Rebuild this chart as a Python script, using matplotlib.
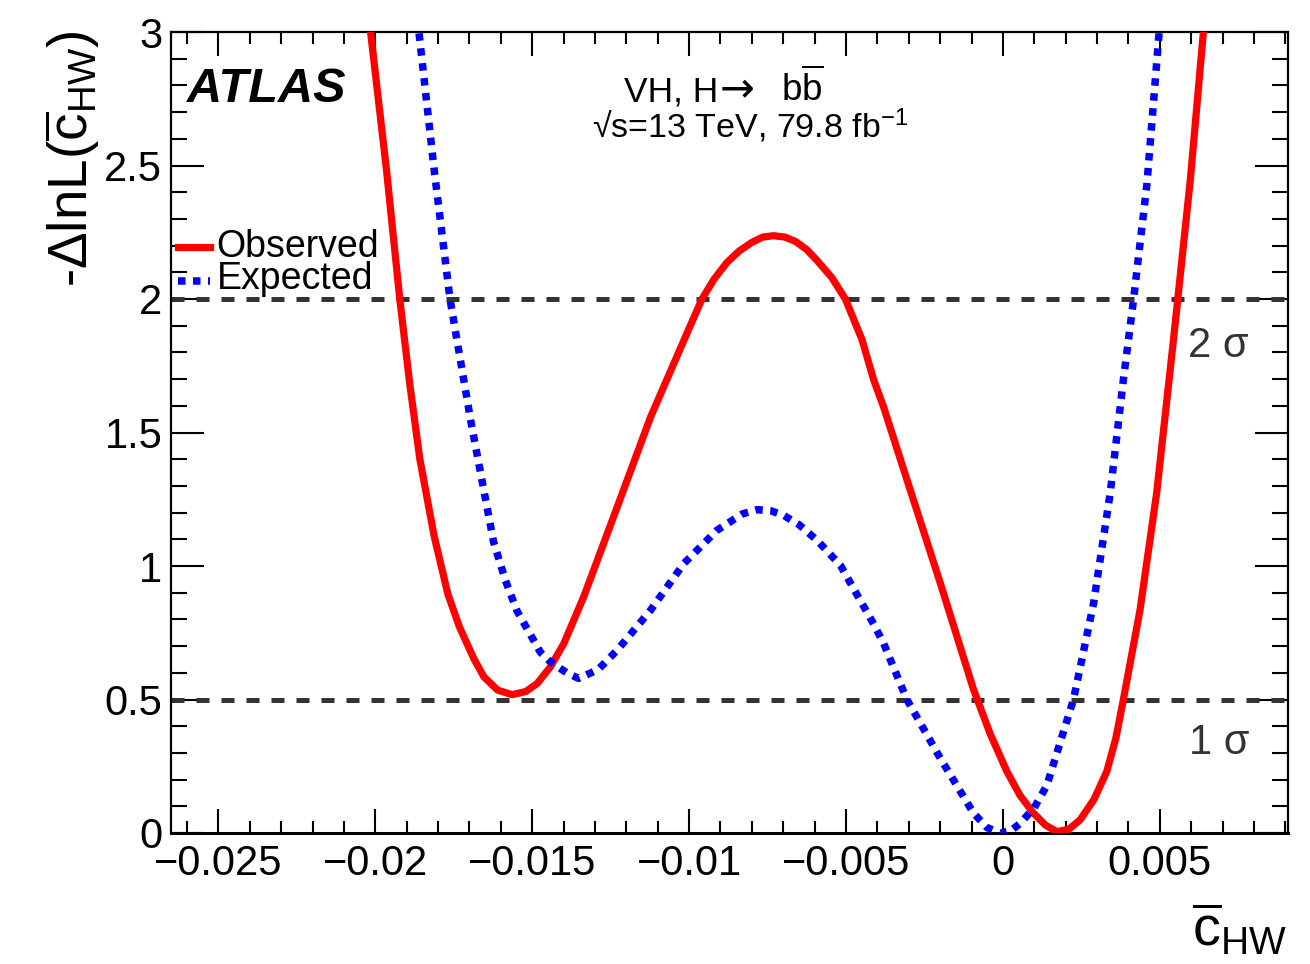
import matplotlib
matplotlib.use("Agg")
import matplotlib.pyplot as plt
from matplotlib.lines import Line2D
from matplotlib.ticker import MultipleLocator, FuncFormatter

# ---------------- data ----------------
obs_x = [-0.02030, -0.02015, -0.01964, -0.01922, -0.01890, -0.01858, -0.01813,
         -0.01769, -0.01732, -0.01686, -0.01654, -0.01610, -0.01564, -0.01520,
         -0.01484, -0.01442, -0.01399, -0.01336, -0.01229, -0.01123, -0.01017,
         -0.00959, -0.00920, -0.00879, -0.00840, -0.00800, -0.00765, -0.00731,
         -0.00695, -0.00660, -0.00625, -0.00592, -0.00545, -0.00502, -0.00449,
         -0.00412, -0.00380, -0.00306, -0.00200, -0.00094, -0.00040, 0.00013,
         0.00055, 0.00097, 0.00135, 0.00172, 0.00210, 0.00246, 0.00290,
         0.00331, 0.00360, 0.00384, 0.00437, 0.00490, 0.00543, 0.00597,
         0.00639, 0.00650]
obs_y = [3.06, 3.00, 2.48, 2.00, 1.68, 1.40, 1.115,
         0.896, 0.772, 0.653, 0.585, 0.535, 0.518, 0.530,
         0.560, 0.622, 0.710, 0.884, 1.221, 1.557, 1.844,
         2.000, 2.075, 2.137, 2.180, 2.212, 2.232, 2.237,
         2.232, 2.215, 2.185, 2.144, 2.080, 2.000, 1.848,
         1.698, 1.595, 1.324, 0.938, 0.539, 0.370, 0.230,
         0.140, 0.075, 0.030, 0.005, 0.014, 0.049, 0.125,
         0.230, 0.355, 0.500, 0.835, 1.273, 1.840, 2.443,
         3.000, 3.15]

exp_x = [-0.01870, -0.01861, -0.01812, -0.01762, -0.01696, -0.01623, -0.01585,
         -0.01548, -0.01474, -0.01442, -0.01390, -0.01352, -0.01290, -0.01229,
         -0.01123, -0.01017, -0.00911, -0.00830, -0.00783, -0.00740, -0.00699,
         -0.00650, -0.00592, -0.00518, -0.00412, -0.00380, -0.00306, -0.00200,
         -0.00094, -0.00050, -0.00009, 0.00025, 0.00055, 0.00100, 0.00140,
         0.00225, 0.00289, 0.00342, 0.00384, 0.00416, 0.00459, 0.00498, 0.00505]
exp_y = [3.05, 3.00, 2.48, 2.00, 1.545, 1.090, 0.945,
         0.831, 0.677, 0.641, 0.600, 0.579, 0.612, 0.685,
         0.834, 1.009, 1.134, 1.195, 1.211, 1.207, 1.190,
         1.155, 1.096, 1.003, 0.783, 0.710, 0.500, 0.281,
         0.075, 0.020, 0.000, 0.008, 0.036, 0.095, 0.178,
         0.500, 0.860, 1.273, 1.698, 1.994, 2.430, 3.000, 3.10]

sigma_levels = [0.5, 2.0]
sigma_labels = ["1 σ", "2 σ"]
series_labels = ["Observed", "Expected"]

# ---------------- style ----------------
plt.rcParams["font.family"] = ["Liberation Sans", "DejaVu Sans"]
plt.rcParams["mathtext.fontset"] = "custom"
plt.rcParams["mathtext.rm"] = "Liberation Sans"
plt.rcParams["mathtext.it"] = "Liberation Sans:italic"
plt.rcParams["mathtext.bf"] = "Liberation Sans:bold"
plt.rcParams["mathtext.fallback"] = "stixsans"

W, H = 1310, 964
fig = plt.figure(figsize=(W / 100, H / 100), dpi=100)
L, R, T, B = 170.7, 1287.5, 32.0, 833.0
ax = fig.add_axes([L / W, 1 - B / H, (R - L) / W, (B - T) / H])
renderer = fig.canvas.get_renderer()


def fx(px):
    return px / W


def fy(py):
    return 1 - py / H


ax.set_xlim(-0.02652, 0.00907)
ax.set_ylim(0, 3)

for lev in sigma_levels:
    ax.axhline(lev, color="#333333", lw=3.6, linestyle=(0, (2.6, 2.4)),
               dash_capstyle="butt", zorder=2)

ax.plot(obs_x, obs_y, color="#ff0000", lw=5.2, solid_joinstyle="round",
        zorder=3, clip_on=True)
ax.plot(exp_x, exp_y, color="#0000ff", lw=5.4, linestyle=(0, (1, 1)),
        dash_capstyle="butt", zorder=4, clip_on=True)

# ticks
ax.xaxis.set_major_locator(MultipleLocator(0.005))
ax.xaxis.set_minor_locator(MultipleLocator(0.001))
ax.yaxis.set_major_locator(MultipleLocator(0.5))
ax.yaxis.set_minor_locator(MultipleLocator(0.1))


def fmt(v, pos):
    v = round(v, 6)
    if abs(v) < 1e-9:
        return "0"
    s = "%g" % v
    return s.replace("-", "\u2212")


ax.xaxis.set_major_formatter(FuncFormatter(fmt))
ax.yaxis.set_major_formatter(FuncFormatter(fmt))
ax.tick_params(which="both", direction="in", top=True, right=True,
               width=1.5, colors="black", labelsize=30)
ax.tick_params(axis="x", which="major", length=17.5, pad=8)
ax.tick_params(axis="x", which="minor", length=8.6)
ax.tick_params(axis="y", which="major", length=23.8, pad=6)
ax.tick_params(axis="y", which="minor", length=11.5)
for sp in ax.spines.values():
    sp.set_linewidth(1.6)
ax.spines["bottom"].set_linewidth(2.2)

# axis titles
fig.text(fx(102), fy(30), r"-$\Delta$lnL($\overline{\mathrm{c}}_{\mathrm{HW}}$)",
         rotation=90, ha="right", va="top", fontsize=39.5)
fig.text(fx(1287), fy(946), r"$\overline{\mathrm{c}}_{\mathrm{HW}}$",
         ha="right", va="baseline", fontsize=40)

# ATLAS label and info
fig.text(fx(187), fy(102), "ATLAS", fontsize=35, fontweight="bold",
         fontstyle="italic", ha="left", va="baseline")
t1 = fig.text(fx(624), fy(101), "VH, H", fontsize=25.5, ha="left",
              va="baseline")
x_end = t1.get_window_extent(renderer=renderer).x1
fig.text((x_end + 1) / W, fy(101), "\u2192", fontsize=30, family="DejaVu Sans",
         ha="left", va="baseline")
fig.text(fx(781), fy(101), r"b$\overline{\mathrm{b}}$", fontsize=26.5,
         ha="left", va="baseline")
fig.text(fx(750), fy(138), "\u221as=13 TeV, 79.8 fb$^{-1}$",
         fontsize=24.5, ha="center", va="baseline")

# sigma labels
fig.text(fx(1188), fy(357), sigma_labels[1], fontsize=30, color="#333333",
         ha="left", va="baseline")
fig.text(fx(1189), fy(754), sigma_labels[0], fontsize=30, color="#333333",
         ha="left", va="baseline")

# legend (manual, ROOT style)
fig.add_artist(Line2D([fx(178), fx(210)], [fy(247), fy(247)],
                      transform=fig.transFigure, color="#ff0000", lw=5.2))
fig.add_artist(Line2D([fx(178), fx(210)], [fy(281), fy(281)],
                      transform=fig.transFigure, color="#0000ff", lw=5.4,
                      linestyle=(0, (1, 1)), dash_capstyle="butt"))
fig.text(fx(216), fy(257), series_labels[0], fontsize=27, ha="left",
         va="baseline")
fig.text(fx(217), fy(289), series_labels[1], fontsize=27, ha="left",
         va="baseline")

fig.savefig("out.png", dpi=100)
